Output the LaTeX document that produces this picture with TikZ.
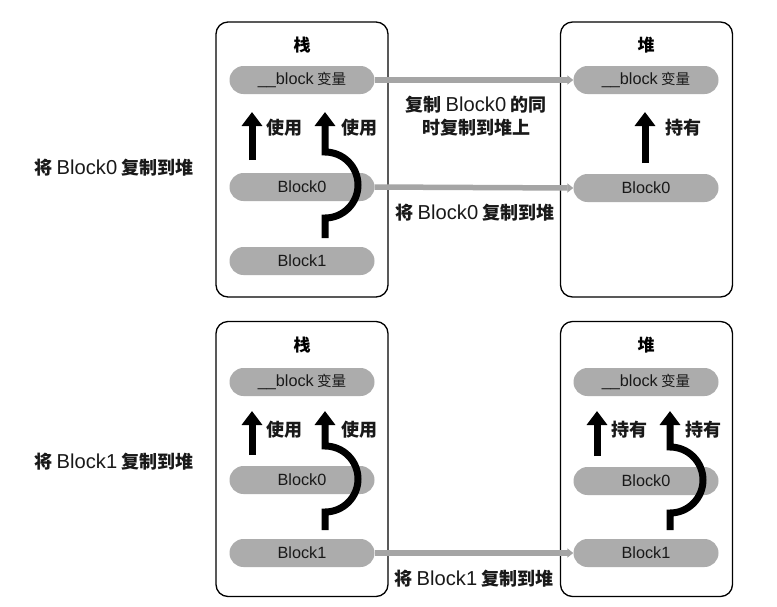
\documentclass[tikz,border=0pt]{standalone}
\usepackage{fontspec}
\setmainfont{Noto Sans CJK SC}
\newfontfamily\lat[Scale=1.12]{Liberation Sans}
\usetikzlibrary{arrows.meta}
\definecolor{pillgray}{RGB}{172,172,172}
\definecolor{linegray}{RGB}{165,165,165}
\definecolor{txtdark}{RGB}{25,25,25}
\newcommand{\La}[1]{{\lat\mdseries #1}}
\begin{document}
\begin{tikzpicture}[x=1pt,y=-1pt,
  frame/.style={draw=black, line width=1.3pt, rounded corners=12pt, fill=white, minimum width=172pt, minimum height=275pt, inner sep=0pt},
  pill/.style={fill=pillgray, rounded corners=14pt, minimum width=145pt, minimum height=28pt, inner sep=0pt, text=txtdark, font=\fontsize{14.5}{16}\selectfont},
  ttl/.style={font=\bfseries\fontsize{17}{20}\selectfont},
  lbl/.style={font=\bfseries\fontsize{18}{23}\selectfont, text=txtdark},
  use/.style={draw=black, line width=7pt, -{Triangle[width=20pt,length=14pt]}},
  copyarrow/.style={draw=linegray, line width=5.5pt, -{Triangle[width=9pt,length=6pt]}}
]
\useasboundingbox[fill=white] (0,0) rectangle (777,606);

% frames
\node[frame] (f1) at (302,159.5) {};
\node[frame] (f2) at (646.5,159.5) {};
\node[frame] (f3) at (302,459) {};
\node[frame] (f4) at (646.5,459) {};

% titles
\node[ttl] (t1) at (302,45) {栈};
\node[ttl] (t2) at (646,45) {堆};
\node[ttl] (t3) at (302,345) {栈};
\node[ttl] (t4) at (646,345) {堆};

% pills top
\node[pill] (va) at (302,80) {\La{\_\_block} 变量};
\node[pill] (b0a) at (302,187) {\La{Block0}};
\node[pill] (b1a) at (302,261) {\La{Block1}};
\node[pill] (vb) at (646,80) {\La{\_\_block} 变量};
\node[pill] (b0b) at (646,188) {\La{Block0}};
% pills bottom
\node[pill] (vc) at (302,382) {\La{\_\_block} 变量};
\node[pill] (b0c) at (302,480) {\La{Block0}};
\node[pill] (b1c) at (302,553) {\La{Block1}};
\node[pill] (vd) at (646,382) {\La{\_\_block} 变量};
\node[pill] (b0d) at (646,481) {\La{Block0}};
\node[pill] (b1d) at (646,553) {\La{Block1}};

% left labels
\node[lbl] (la) at (114,168) {将 \La{Block0} 复制到堆};
\node[lbl] (lb) at (114,462) {将 \La{Block1} 复制到堆};

% copy connectors
\draw[copyarrow] (va.east) -- (vb.west);
\draw[copyarrow] (b0a.east) -- (b0b.west);
\draw[copyarrow] (b1c.east) -- (b1d.west);
\node[lbl, align=center] (ca) at (476,116) {复制 \La{Block0} 的同\\时复制到堆上};
\node[lbl] (cb) at (475,213) {将 \La{Block0} 复制到堆};
\node[lbl] (cc) at (474,579) {将 \La{Block1} 复制到堆};

% top-left arrows
\draw[use] (252,160) -- (252,112);
\draw[use] (325,238) -- (325,218) arc[start angle=90,end angle=-90,radius=33] -- (325,112);
\node[lbl] (u1) at (284,128) {使用};
\node[lbl] (u2) at (359,128) {使用};
% top-right arrow
\draw[use] (645,163) -- (645,112);
\node[lbl] (h1) at (683,128) {持有};

% bottom-left arrows
\draw[use] (252,455) -- (252,411);
\draw[use] (325,530) -- (325,512) arc[start angle=90,end angle=-90,radius=33] -- (325,411);
\node[lbl] (u3) at (284,430) {使用};
\node[lbl] (u4) at (359,430) {使用};
% bottom-right arrows
\draw[use] (597,456) -- (597,411);
\draw[use] (670,530) -- (670,513) arc[start angle=90,end angle=-90,radius=33] -- (670,411);
\node[lbl] (h2) at (629,430) {持有};
\node[lbl] (h3) at (703,430) {持有};
\end{tikzpicture}
\end{document}
